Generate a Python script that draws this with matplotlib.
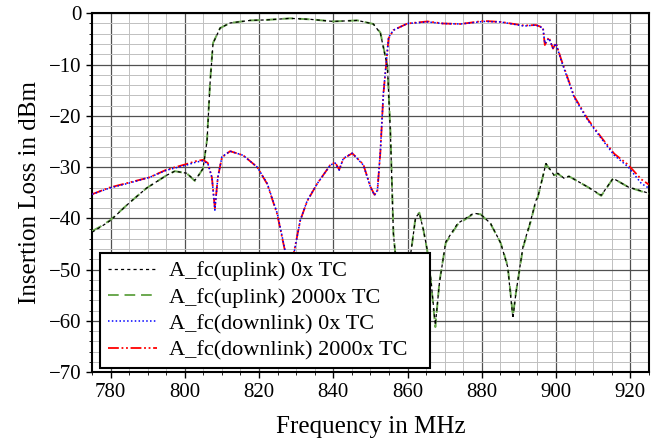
import numpy as np
import matplotlib
matplotlib.use("Agg")
import matplotlib.pyplot as plt
from matplotlib.ticker import MultipleLocator

# uplink filter response (0x TC)
f_up = [775, 777.5, 780, 785, 789.7, 795.1, 797.3, 800.5, 802.7, 804.1, 804.9, 806, 806.8,
        807.6, 809.5, 812.2, 817.6, 822, 828.4, 834, 840, 846.5, 850.8, 852.7, 854.6, 855.4,
        856.2, 856.8, 858.5, 860.8, 862.2, 863.2, 864.3, 865.7, 867.5, 868.6, 870.3, 873.5,
        877.8, 879.7, 882.4, 885.1, 887, 888.4, 889.2, 891.1, 893.2, 894.6, 895.1, 897.3,
        899.5, 900.5, 902.2, 903.5, 908.6, 912.2, 915.4, 919.5, 925]
a_up_0x = [-42.7, -41.6, -40.4, -37, -34.1, -31.6, -30.8, -31.2, -32.6, -31.2, -30.3, -24.8,
           -13.7, -5.9, -2.9, -1.9, -1.4, -1.3, -1.0, -1.2, -1.6, -1.4, -2.1, -3.9, -10.5,
           -23.4, -43, -47.6, -66, -47.2, -39.8, -39, -42.3, -47.6, -60.8, -52.6, -44.6, -41,
           -39, -39.2, -41, -44.8, -49.5, -59.5, -54.6, -45.6, -40.4, -36.5, -35.9, -29.3,
           -31.6, -31.2, -32.2, -31.8, -33.9, -35.5, -32.2, -33.9, -35.1]
# uplink filter response (2000x TC)
a_up_2000x = [-42.5, -41.5, -40.3, -37, -34.1, -31.6, -30.8, -31.2, -32.7, -31.2, -30.3, -24.6,
              -13.5, -5.8, -2.9, -1.9, -1.4, -1.3, -1.0, -1.2, -1.6, -1.4, -2.1, -3.8, -10.3,
              -23.2, -42.8, -47.6, -66, -47.4, -39.6, -38.9, -42.3, -47.8, -61.2, -52.4, -44.8,
              -41.2, -39.1, -39.2, -41.1, -44.8, -49.3, -59.0, -54.6, -45.8, -40.6, -36.6, -35.9,
              -29.4, -31.6, -31.3, -32.2, -31.8, -33.9, -35.6, -32.2, -33.9, -35.2]

# downlink filter response (0x TC)
f_dn = [775, 779.7, 785.1, 790.5, 795.1, 800.5, 803.2, 804.9, 806.2, 807.3, 808.1, 808.9, 810,
        812.2, 815.7, 819.5, 822.2, 824.9, 827, 828.4, 829.2, 831.1, 833, 835.7, 839.2, 840.5,
        841.6, 842.7, 845.1, 848.1, 850, 851.1, 851.9, 852.7, 853.5, 854.9, 856.2, 860, 865.4,
        869.5, 874.3, 880.5, 885.1, 891.4, 894.6, 896.5, 897, 898.1, 899.2, 900, 901.4, 904.9,
        908.6, 912.2, 915.7, 919.5, 923, 925]
a_dn_0x = [-35.3, -34.1, -33.1, -32, -30.6, -29.6, -29, -28.8, -29.3, -32, -38.4, -32, -28,
           -26.9, -27.7, -30, -33.2, -39, -46.2, -55, -47.6, -40.4, -36.5, -33.2, -29.6, -29.2,
           -30.6, -28.3, -27.3, -29.6, -33.9, -35.5, -34.5, -26.7, -15.6, -4.7, -3.3, -2, -1.7,
           -2, -2.1, -1.6, -1.7, -2.5, -2.3, -2.9, -5.9, -4.9, -6.8, -5.9, -9.2, -16.4, -20.9,
           -24.4, -27.7, -30, -33.2, -34.1]
# downlink filter response (2000x TC)
a_dn_2000x = [-35.3, -34.0, -33.0, -32, -30.5, -29.4, -28.8, -28.6, -29.2, -32, -38.0, -32,
              -28.1, -26.9, -27.7, -30, -33.3, -39.2, -46.4, -55, -47.4, -40.4, -36.6, -33.2,
              -29.6, -29.1, -30.5, -28.4, -27.3, -29.5, -33.8, -35.4, -34.6, -27, -15.8, -4.9,
              -3.3, -2, -1.6, -2, -2.1, -1.5, -1.7, -2.4, -2.3, -2.8, -6.2, -4.7, -6.9, -5.8,
              -9.0, -16.2, -20.7, -24.2, -27.4, -29.6, -32.4, -33.4]

labels = ["A_fc(uplink) 0x TC", "A_fc(uplink) 2000x TC",
          "A_fc(downlink) 0x TC", "A_fc(downlink) 2000x TC"]

plt.rcParams['font.family'] = ['Liberation Serif', 'DejaVu Serif']

fig = plt.figure(figsize=(6.62, 4.41), dpi=100)
ax = fig.add_axes([0.139, 0.156, 0.841, 0.814])

ax.plot(f_up, a_up_2000x, color='#6aa84f', ls=(0, (5.5, 3)), lw=1.4, label=labels[1], zorder=3)
ax.plot(f_up, a_up_0x, color='black', ls=(0, (2.5, 2.5)), lw=0.9, label=labels[0], zorder=4)
ax.plot(f_dn, a_dn_2000x, color='#ff0000', ls=(0, (6, 1.5, 1, 1.5, 1, 1.5)), lw=1.3,
        label=labels[3], zorder=3)
ax.plot(f_dn, a_dn_0x, color='#0000ff', ls=(0, (1, 1.5)), lw=1.1, label=labels[2], zorder=4)

ax.set_xlim(775, 925)
ax.set_ylim(-70, 0)
ax.xaxis.set_major_locator(MultipleLocator(20))
ax.xaxis.set_minor_locator(MultipleLocator(5))
ax.yaxis.set_major_locator(MultipleLocator(10))
ax.yaxis.set_minor_locator(MultipleLocator(2))
ax.grid(which='major', color='#505050', lw=0.9)
ax.grid(which='minor', color='#c0c0c0', lw=0.7)
ax.set_axisbelow(True)
ax.tick_params(which='major', labelsize=15, length=4, width=1)
ax.tick_params(which='minor', length=2)
for s in ax.spines.values():
    s.set_linewidth(1.5)

ax.set_xlabel("Frequency in MHz", fontsize=18, labelpad=10)
ax.set_ylabel("Insertion Loss in dBm", fontsize=18, labelpad=6)

# legend order follows the reference
h, l = ax.get_legend_handles_labels()
order = [1, 0, 3, 2]
leg = ax.legend([h[i] for i in order], [l[i] for i in order], loc='lower left',
                bbox_to_anchor=(0.0144, 0.011, 0.592, 0.3), mode='expand', fontsize=16,
                fancybox=False, framealpha=1, edgecolor='black', handlelength=2.2,
                borderpad=0.35, labelspacing=0.26, handletextpad=0.55, borderaxespad=0)
leg.get_frame().set_linewidth(1.5)
leg.set_zorder(10)

plt.savefig('out.png', dpi=100)
